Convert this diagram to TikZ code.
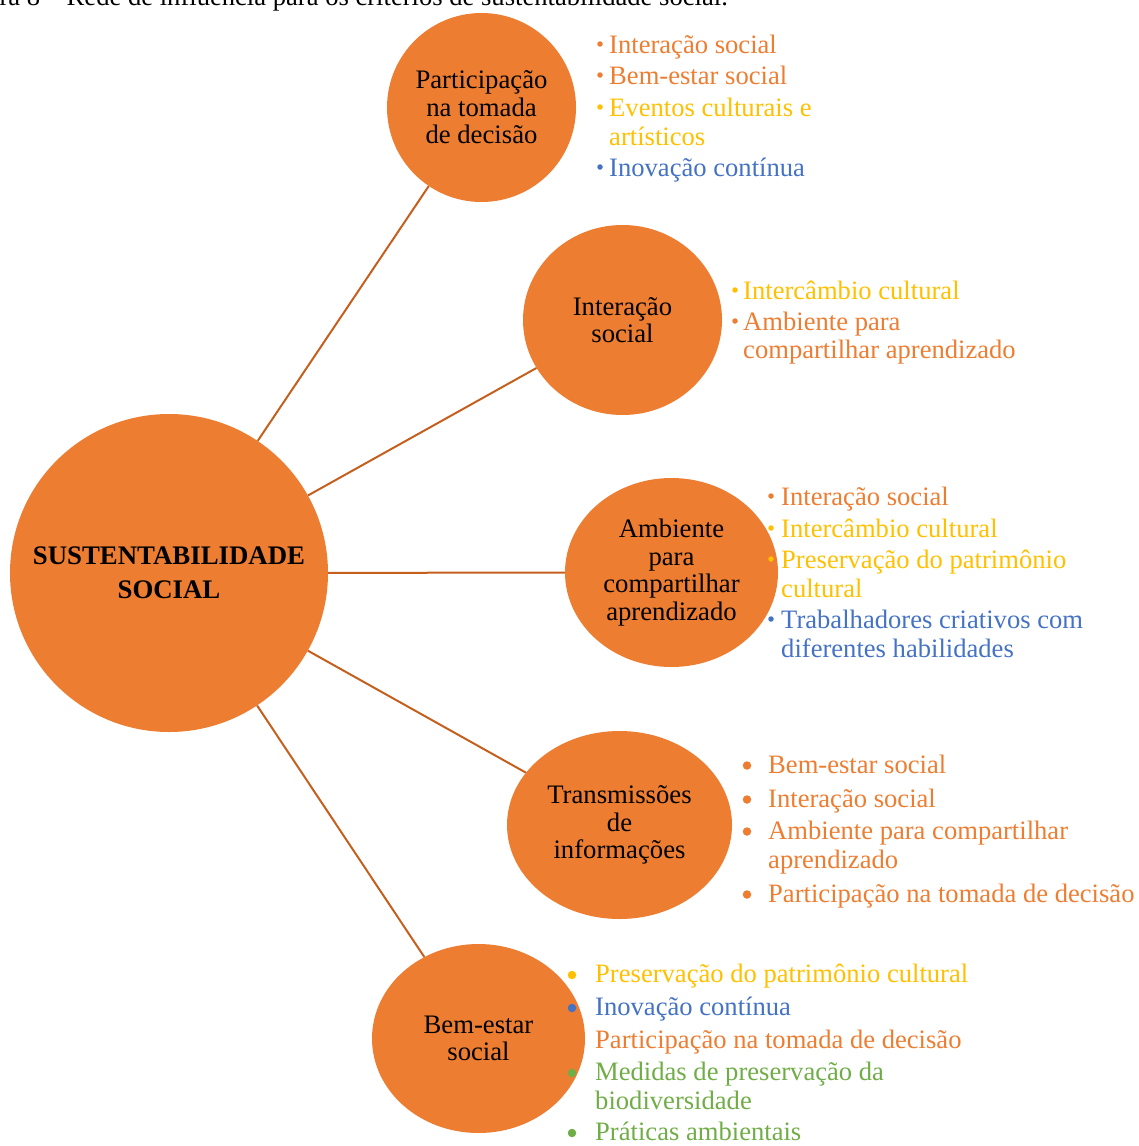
\documentclass[tikz,border=0pt]{standalone}
\usepackage{fontspec}
\setmainfont{Liberation Serif}
\usetikzlibrary{shapes.geometric}

\definecolor{accorange}{HTML}{ED7D31}
\definecolor{accyellow}{HTML}{FFC000}
\definecolor{accblue}{HTML}{4472C4}
\definecolor{accgreen}{HTML}{70AD47}
\definecolor{linkbrown}{HTML}{C55F1E}

\tikzset{
  bubble/.style={ellipse, fill=accorange, draw=none, inner sep=0pt},
  bubbletext/.style={font=\fontsize{26.7}{27.5}\selectfont, align=center, text=black, inner sep=0pt},
  link/.style={draw=linkbrown, line width=2pt},
  entry/.style={anchor=base west, inner sep=0pt, font=\fontsize{26.6}{29}\selectfont},
  smalldot/.style={circle, inner sep=0pt, minimum size=5.5pt, draw=none},
  bigdot/.style={circle, inner sep=0pt, minimum size=8.5pt, draw=none},
}

\begin{document}
\begin{tikzpicture}[x=1pt, y=-1pt]
\useasboundingbox (0,0) rectangle (1138,1146);
\clip (0,0) rectangle (1138,1146);

% caption line
\node[anchor=base east, inner sep=0pt, font=\fontsize{26.6}{29}\selectfont] (caption) at (728,5)
  {Figura 8 – Rede de influência para os critérios de sustentabilidade social.};

% circles
\node[bubble, minimum width=318pt, minimum height=318pt] (core) at (169,573) {};
\node[bubble, minimum width=189pt, minimum height=189pt] (part) at (481.5,107.5) {};
\node[bubble, minimum width=199pt, minimum height=190pt] (inter) at (622.5,320) {};
\node[bubble, minimum width=213pt, minimum height=189pt] (amb) at (671.5,572.5) {};
\node[bubble, minimum width=225pt, minimum height=188pt] (trans) at (619.5,825) {};
\node[bubble, minimum width=213pt, minimum height=189pt] (bem) at (478.5,1038.5) {};

% connectors from the core to each criterion
\draw[link] (core) -- (part);
\draw[link] (core) -- (inter);
\draw[link] (core) -- (amb);
\draw[link] (core) -- (trans);
\draw[link] (core) -- (bem);

% circle labels
\node[bubbletext, font=\fontsize{26.8}{34}\selectfont\bfseries] (coreL) at (core.center) {SUSTENTABILIDADE\\SOCIAL};
\node[bubbletext] (partL) at (part.center) {Participação\\na tomada\\de decisão};
\node[bubbletext] (interL) at (inter.center) {Interação\\social};
\node[bubbletext] (ambL) at (amb.center) {Ambiente\\para\\compartilhar\\aprendizado};
\node[bubbletext] (transL) at (trans.center) {Transmissões\\de\\informações};
\node[bubbletext] (bemL) at (bem.center) {Bem-estar\\social};

% list: Participação na tomada de decisão
\node[smalldot, fill=accorange] (pb1) at (600,44) {};
\node[entry, text=accorange] (pt1) at (609,53) {Interação social};
\node[smalldot, fill=accorange] (pb2) at (600,75) {};
\node[entry, text=accorange] (pt2) at (609,84) {Bem-estar social};
\node[smalldot, fill=accyellow] (pb3) at (600,107) {};
\node[entry, text=accyellow] (pt3) at (609,116) {Eventos culturais e};
\node[entry, text=accyellow] (pt3b) at (609,145) {artísticos};
\node[smalldot, fill=accblue] (pb4) at (600,167) {};
\node[entry, text=accblue] (pt4) at (609,176) {Inovação contínua};

% list: Interação social
\node[smalldot, fill=accyellow] (ib1) at (735,290) {};
\node[entry, text=accyellow] (it1) at (743,299) {Intercâmbio cultural};
\node[smalldot, fill=accorange] (ib2) at (735,321) {};
\node[entry, text=accorange] (it2) at (743,330) {Ambiente para};
\node[entry, text=accorange] (it2b) at (743,358) {compartilhar aprendizado};

% list: Ambiente para compartilhar aprendizado
\node[smalldot, fill=accorange] (ab1) at (771,496) {};
\node[entry, text=accorange] (at1) at (781,505) {Interação social};
\node[smalldot, fill=accyellow] (ab2) at (771,528) {};
\node[entry, text=accyellow] (at2) at (781,537) {Intercâmbio cultural};
\node[smalldot, fill=accyellow] (ab3) at (771,559) {};
\node[entry, text=accyellow] (at3) at (781,568) {Preservação do patrimônio};
\node[entry, text=accyellow] (at3b) at (781,597) {cultural};
\node[smalldot, fill=accblue] (ab4) at (771,619) {};
\node[entry, text=accblue] (at4) at (781,628) {Trabalhadores criativos com};
\node[entry, text=accblue] (at4b) at (781,657) {diferentes habilidades};

% list: Transmissões de informações
\node[bigdot, fill=accorange] (tb1) at (747,765.5) {};
\node[entry, text=accorange] (tt1) at (768,773) {Bem-estar social};
\node[bigdot, fill=accorange] (tb2) at (747,799.5) {};
\node[entry, text=accorange] (tt2) at (768,807) {Interação social};
\node[bigdot, fill=accorange] (tb3) at (747,831.5) {};
\node[entry, text=accorange] (tt3) at (768,839) {Ambiente para compartilhar};
\node[entry, text=accorange] (tt3b) at (768,868) {aprendizado};
\node[bigdot, fill=accorange] (tb4) at (747,894.5) {};
\node[entry, text=accorange] (tt4) at (768,902) {Participação na tomada de decisão};

% list: Bem-estar social
\node[bigdot, fill=accyellow] (bb1) at (572,975) {};
\node[entry, text=accyellow] (bt1) at (595,982) {Preservação do patrimônio cultural};
\node[bigdot, fill=accblue] (bb2) at (572,1008) {};
\node[entry, text=accblue] (bt2) at (595,1015) {Inovação contínua};
\node[bigdot, fill=accorange] (bb3) at (572,1041) {};
\node[entry, text=accorange] (bt3) at (595,1048) {Participação na tomada de decisão};
\node[bigdot, fill=accgreen] (bb4) at (572,1073) {};
\node[entry, text=accgreen] (bt4) at (595,1080) {Medidas de preservação da};
\node[entry, text=accgreen] (bt4b) at (595,1109) {biodiversidade};
\node[bigdot, fill=accgreen] (bb5) at (572,1133) {};
\node[entry, text=accgreen] (bt5) at (595,1140) {Práticas ambientais};
\end{tikzpicture}
\end{document}
